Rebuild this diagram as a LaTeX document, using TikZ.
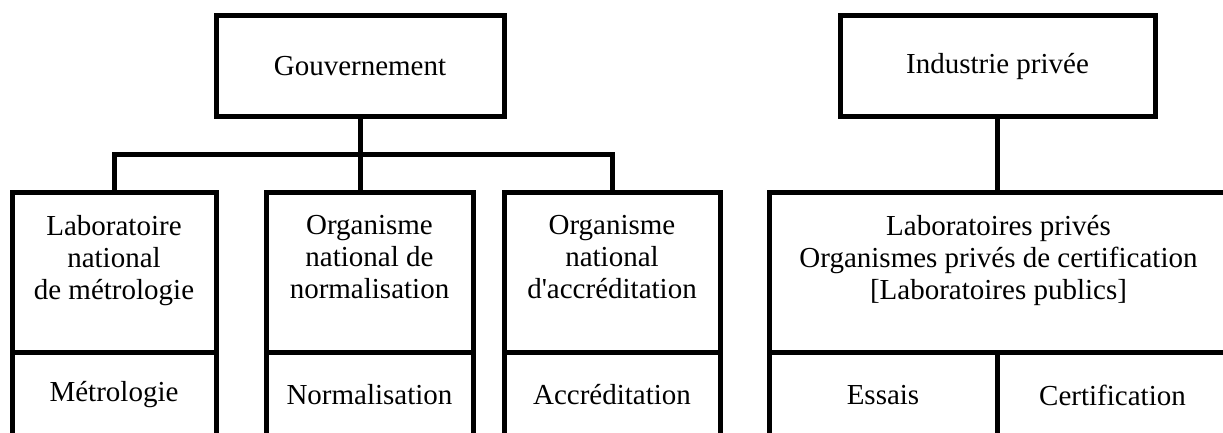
\documentclass[tikz,border=0pt]{standalone}
\usepackage{fontspec}
\setmainfont{Liberation Serif}
\usetikzlibrary{positioning}

\begin{document}
\begin{tikzpicture}[
  x=0.5pt, y=-0.5pt,
  every node/.style={align=center, font=\fontsize{14.5pt}{16pt}\selectfont},
  headbox/.style={draw, rectangle, line width=2.5pt, inner sep=0pt, outer sep=0pt, minimum height=50.5pt},
  orgbox/.style={draw, rectangle, line width=2.5pt, inner sep=0pt, outer sep=0pt, minimum height=80pt},
  actbox/.style={draw, rectangle, line width=2.5pt, inner sep=0pt, outer sep=0pt, minimum height=42pt, anchor=north},
  link/.style={line width=2.5pt, line join=miter}
]

% --- Frame
\useasboundingbox (0,0) rectangle (1223,433);
\clip (0,0) rectangle (1223,433);

% --- Top level
\node[headbox, minimum width=144pt] (gouv) at (360,66.5) {Gouvernement};
\node[headbox, minimum width=157.5pt] (ind) at (997.5,66.5) {Industrie privée};

% --- Organisations
\node[orgbox, minimum width=102pt] (lnm) at (114,273) {Laboratoire\\national\\de métrologie\\ \mbox{}};
\node[orgbox, minimum width=103.5pt] (onn) at (369.5,273) {Organisme\\national de\\normalisation\\ \mbox{}};
\node[orgbox, minimum width=108pt] (ona) at (612,273) {Organisme\\national\\d\textquotesingle accréditation\\ \mbox{}};
\node[orgbox, minimum width=229.5pt] (prives) at (998.5,273) {Laboratoires privés\\Organismes privés de certification\\{[}Laboratoires publics{]}\\ \mbox{}};

% --- Activities
\node[actbox, minimum width=102pt] (metro) at (lnm.south) {Métrologie};
\node[actbox, minimum width=103.5pt] (norma) at (onn.south) {Normalisation};
\node[actbox, minimum width=108pt] (accred) at (ona.south) {Accréditation};
\node[actbox, minimum width=114pt, anchor=north west] (essais) at (prives.south west) {Essais};
\node[actbox, minimum width=115.5pt, anchor=north west] (certif) at (essais.north east) {Certification};

% --- Connectors
\coordinate (bus) at (0,155);
\draw[link] (gouv.south) -- (gouv.south |- onn.north);
\draw[link] (lnm.north) |- (gouv.south |- bus) -| (ona.north);
\draw[link] (ind.south) -- (ind.south |- prives.north);

\end{tikzpicture}
\end{document}
